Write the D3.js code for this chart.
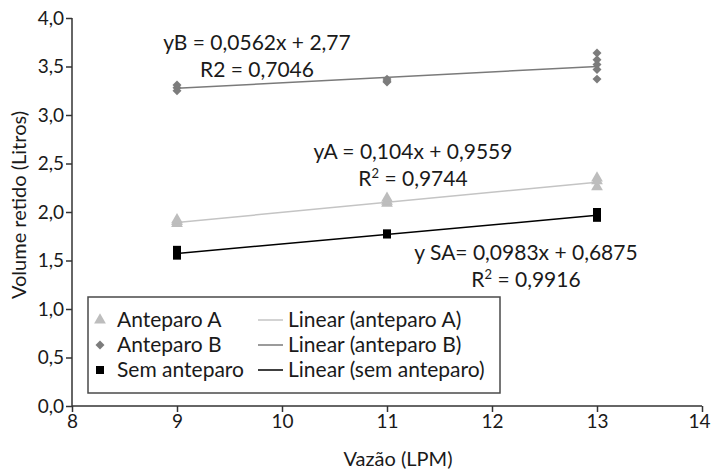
<!DOCTYPE html>
<html>
<head>
<meta charset="utf-8">
<script src="https://cdn.jsdelivr.net/npm/d3@7"></script>
<style>
  body { margin: 0; background: #fff; }
  text { font-family: Lato, "DejaVu Sans", sans-serif; fill: #1a1a1a; }
</style>
</head>
<body>
<div class="viz"></div>
<script>
// data
var vazao = [9, 11, 13];
var anteparoA = [[1.88, 1.90, 1.92], [2.09, 2.11, 2.14], [2.26, 2.32, 2.35]];
var anteparoB = [[3.25, 3.28, 3.31], [3.34, 3.35, 3.37], [3.37, 3.47, 3.52, 3.57, 3.64]];
var semAnteparo = [[1.55, 1.58, 1.61], [1.77, 1.77, 1.78], [1.94, 1.97, 2.00]];

// trend lines (slope, intercept) as printed on the chart
var fitA = [0.104, 0.9559];
var fitB = [0.0562, 2.77];
var fitSA = [0.0983, 0.6875];

var xTicks = [8, 9, 10, 11, 12, 13, 14];
var yTicks = [0, 0.5, 1, 1.5, 2, 2.5, 3, 3.5, 4];

var w = 712;
var h = 472;
var padLeft = 72, padRight = 702, padTop = 18, padBottom = 406;

var locale = d3.formatLocale({decimal: ",", thousands: ".", grouping: [3], currency: ["R$", ""]});
var fmt = locale.format(".1f");

var xScale = d3.scaleLinear().domain([8, 14]).range([padLeft, padRight]);
var yScale = d3.scaleLinear().domain([0, 4]).range([padBottom, padTop]);

var svg = d3.select(".viz")
        .append("svg")
        .attr("width", w)
        .attr("height", h);

// flatten [x, y] pairs
function points(series) {
    var out = [];
    series.forEach(function(vals, i) {
        vals.forEach(function(v) {
            out.push({x: vazao[i], y: v});
        });
    });
    return out;
}

// trend lines
var fits = [
    {coef: fitA, color: "#c4c4c4"},
    {coef: fitB, color: "#7a7a7a"},
    {coef: fitSA, color: "#000000"}
];
svg.selectAll("line.fit")
    .data(fits)
    .enter()
    .append("line")
    .attr("class", "fit")
    .attr("x1", xScale(vazao[0]))
    .attr("x2", xScale(vazao[vazao.length - 1]))
    .attr("y1", function(d) { return yScale(d.coef[0] * vazao[0] + d.coef[1]); })
    .attr("y2", function(d) { return yScale(d.coef[0] * vazao[vazao.length - 1] + d.coef[1]); })
    .attr("stroke", function(d) { return d.color; })
    .attr("stroke-width", 1.5);

// markers (diamond = square turned 45deg)
var groups = [
    {data: points(anteparoA), symbol: d3.symbolTriangle, size: 60, rot: 0, color: "#bdbdbd"},
    {data: points(anteparoB), symbol: d3.symbolSquare, size: 40, rot: 45, color: "#7c7c7c"},
    {data: points(semAnteparo), symbol: d3.symbolSquare, size: 64, rot: 0, color: "#000000"}
];
groups.forEach(function(g) {
    svg.append("g")
        .selectAll("path")
        .data(g.data)
        .enter()
        .append("path")
        .attr("d", d3.symbol().type(g.symbol).size(g.size))
        .attr("transform", function(d) {
            return "translate(" + xScale(d.x) + "," + yScale(d.y) + ") rotate(" + g.rot + ")";
        })
        .attr("fill", g.color);
});

// axes
var xaxis = d3.axisBottom(xScale).tickValues(xTicks).tickSize(6).tickPadding(3)
            .tickFormat(function(d) { return d; });
var yaxis = d3.axisLeft(yScale).tickValues(yTicks).tickSize(6).tickPadding(2)
            .tickFormat(fmt);

var gx = svg.append("g")
     .attr("class", "x axis")
     .attr("transform", "translate(0," + padBottom + ")")
     .call(xaxis);
var gy = svg.append("g")
     .attr("class", "y axis")
     .attr("transform", "translate(" + padLeft + ",0)")
     .call(yaxis);

[gx, gy].forEach(function(g) {
    g.select(".domain").attr("stroke", "#333").attr("stroke-width", 1.5);
    g.selectAll(".tick line").attr("stroke", "#333").attr("stroke-width", 1.5);
    g.selectAll(".tick text")
        .attr("font-size", "19px")
        .attr("font-family", "Lato, sans-serif")
        .attr("fill", "#1a1a1a");
});
gx.select(".domain").attr("d", "M" + padLeft + ",0H" + padRight);
gy.select(".domain").attr("d", "M0," + padTop + "V" + padBottom);
// keep the last x label inside the frame
gx.selectAll(".tick text").filter(function(d) { return d === 14; }).attr("dx", -3);

// axis titles
svg.append("text")
    .attr("x", 398)
    .attr("y", 466)
    .attr("text-anchor", "middle")
    .attr("font-size", "20px")
    .text("Vazão (LPM)");

svg.append("text")
    .attr("transform", "translate(26,205) rotate(-90)")
    .attr("text-anchor", "middle")
    .attr("font-size", "20px")
    .text("Volume retido (Litros)");

// equations
function equation(x, y, line1, rLabel, sup, rValue) {
    svg.append("text")
        .attr("x", x)
        .attr("y", y)
        .attr("text-anchor", "middle")
        .attr("font-size", "21px")
        .text(line1);
    var t = svg.append("text")
        .attr("x", x)
        .attr("y", y + 27)
        .attr("text-anchor", "middle")
        .attr("font-size", "21px");
    t.append("tspan").text(rLabel);
    if (sup) {
        t.append("tspan").attr("font-size", "13px").attr("dy", -8).text("2");
        t.append("tspan").attr("dy", 8).text(" = " + rValue);
    } else {
        t.append("tspan").text("2 = " + rValue);
    }
}
equation(257, 50, "yB = 0,0562x + 2,77", "R", false, "0,7046");
equation(413, 159, "yA = 0,104x + 0,9559", "R", true, "0,9744");
equation(526, 260, "y SA= 0,0983x + 0,6875", "R", true, "0,9916");

// legend
var legendItems = [
    {label: "Anteparo A", symbol: d3.symbolTriangle, size: 60, rot: 0, color: "#bdbdbd", line: "Linear (anteparo A)", lineColor: "#c4c4c4"},
    {label: "Anteparo B", symbol: d3.symbolSquare, size: 40, rot: 45, color: "#7c7c7c", line: "Linear (anteparo B)", lineColor: "#7a7a7a"},
    {label: "Sem anteparo", symbol: d3.symbolSquare, size: 64, rot: 0, color: "#000000", line: "Linear (sem anteparo)", lineColor: "#000000"}
];
var legend = svg.append("g").attr("transform", "translate(88,297)");
legend.append("rect")
    .attr("width", 412)
    .attr("height", 96)
    .attr("fill", "#fff")
    .attr("stroke", "#4a4a4a")
    .attr("stroke-width", 1.5);

var rows = legend.selectAll("g.row")
    .data(legendItems)
    .enter()
    .append("g")
    .attr("class", "row")
    .attr("transform", function(d, i) { return "translate(0," + (23 + i * 25) + ")"; });

rows.append("path")
    .attr("d", function(d) { return d3.symbol().type(d.symbol).size(d.size)(); })
    .attr("transform", function(d) { return "translate(12,0) rotate(" + d.rot + ")"; })
    .attr("fill", function(d) { return d.color; });
rows.append("text")
    .attr("x", 29)
    .attr("y", 7)
    .attr("font-size", "21px")
    .text(function(d) { return d.label; });
rows.append("line")
    .attr("x1", 170)
    .attr("x2", 195)
    .attr("stroke", function(d) { return d.lineColor; })
    .attr("stroke-width", 1.5);
rows.append("text")
    .attr("x", 200)
    .attr("y", 7)
    .attr("font-size", "21px")
    .text(function(d) { return d.line; });
</script>
</body>
</html>
